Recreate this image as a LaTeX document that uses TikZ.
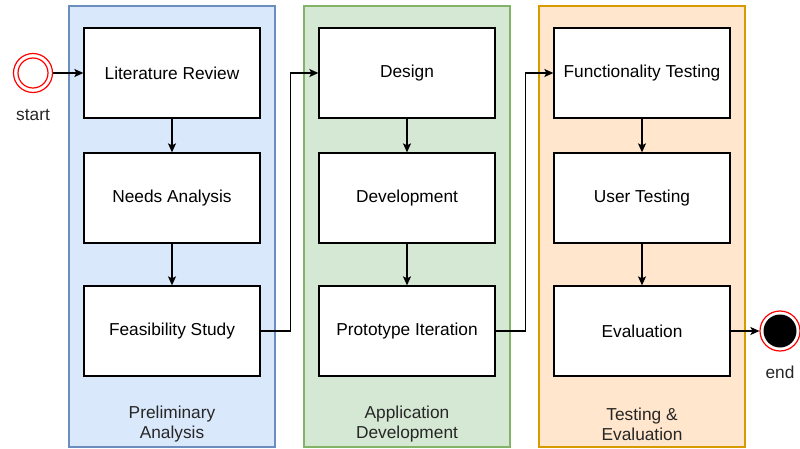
\documentclass[tikz,border=0pt]{standalone}
\usepackage{fontspec}
\setmainfont{Liberation Sans}
\usetikzlibrary{arrows.meta}
\definecolor{bluefill}{HTML}{DAE8FC}
\definecolor{bluedraw}{HTML}{6C8EBF}
\definecolor{greenfill}{HTML}{D5E8D4}
\definecolor{greendraw}{HTML}{82B366}
\definecolor{orangefill}{HTML}{FFE6CC}
\definecolor{orangedraw}{HTML}{D79B00}
\definecolor{redring}{HTML}{FF0000}
\begin{document}
\begin{tikzpicture}[x=1pt,y=-1pt,
  font=\fontsize{17.3}{20}\selectfont,
  lane/.style={draw=#1draw, fill=#1fill, line width=1.2pt, minimum width=206pt, minimum height=441pt, inner sep=0pt},
  stepbox/.style={draw=black, fill=white, line width=1.3pt, minimum width=176pt, minimum height=90pt, inner sep=0pt},
  lanelabel/.style={align=center, text=black!85},
  conn/.style={line width=1.3pt, -{Stealth[length=9pt,width=8pt,inset=2pt]}},
  caption/.style={text=black!85}
]
\useasboundingbox (0,0) rectangle (800,449);
% lanes
\node[lane=blue] (L1) at (172,226.5) {};
\node[lane=green] (L2) at (407,226.5) {};
\node[lane=orange] (L3) at (642,226.5) {};
\node[lanelabel] (L1t) at (172,424) {Preliminary\\Analysis};
\node[lanelabel] (L2t) at (407,424) {Application\\Development};
\node[lanelabel] (L3t) at (642,424) {Testing \&\\Evaluation};
% boxes
\node[stepbox] (a1) at (172,73) {Literature Review};
\node[stepbox] (a2) at (172,198) {Needs Analysis};
\node[stepbox] (a3) at (172,331) {Feasibility Study};
\node[stepbox] (b1) at (407,73) {Design};
\node[stepbox] (b2) at (407,198) {Development};
\node[stepbox] (b3) at (407,331) {Prototype Iteration};
\node[stepbox] (c1) at (642,73) {Functionality Testing};
\node[stepbox] (c2) at (642,198) {User Testing};
\node[stepbox] (c3) at (642,331) {Evaluation};
% start
\node[circle, draw=redring, fill=white, line width=1.2pt, minimum size=39pt, inner sep=0pt] (start) at (33,73) {};
\node[circle, draw=redring, line width=1.2pt, minimum size=30pt, inner sep=0pt] (startin) at (33,73) {};
\node[caption] (startl) at (33,115) {start};
% end
\node[circle, draw=redring, fill=white, line width=1.2pt, minimum size=40pt, inner sep=0pt] (end) at (780,331) {};
\node[circle, fill=black, minimum size=33pt, inner sep=0pt] (endin) at (780,331) {};
\node[caption] (endl) at (780,372) {end};
% connectors
\draw[conn] (start) -- (a1);
\draw[conn] (a1) -- (a2);
\draw[conn] (a2) -- (a3);
\draw[conn] (b1) -- (b2);
\draw[conn] (b2) -- (b3);
\draw[conn] (c1) -- (c2);
\draw[conn] (c2) -- (c3);
\draw[conn] (a3.east) -- ++(30,0) |- (b1.west);
\draw[conn] (b3.east) -- ++(30,0) |- (c1.west);
\draw[conn] (c3) -- (end);
\end{tikzpicture}
\end{document}
